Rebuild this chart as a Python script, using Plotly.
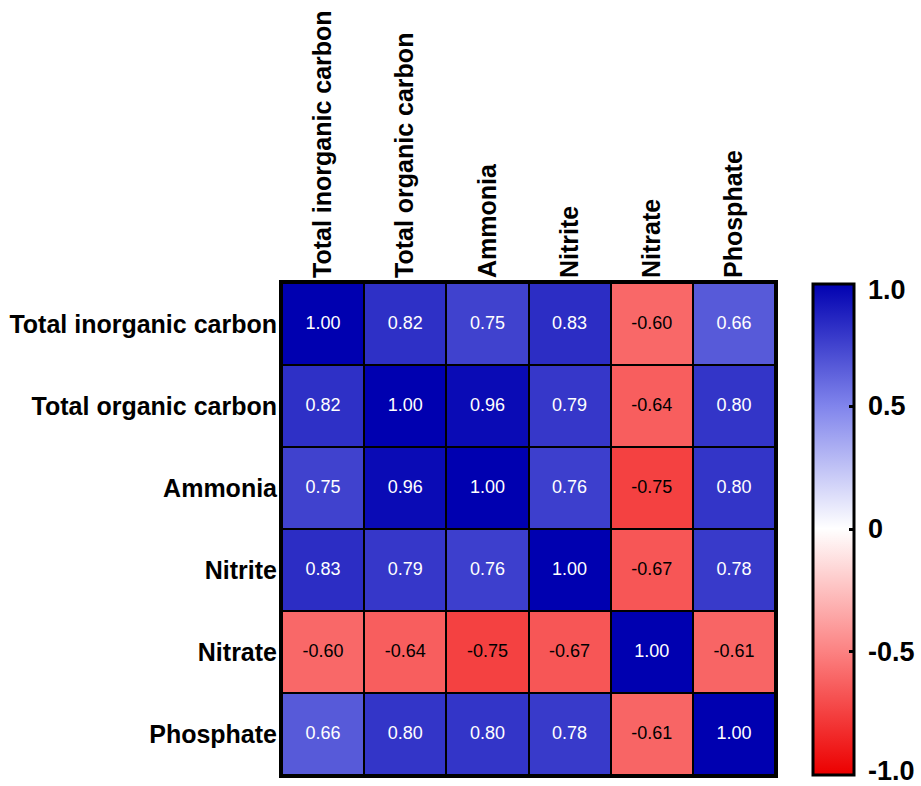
import plotly.graph_objects as go

# Correlation matrix of water-quality parameters
variables = ["Total inorganic carbon", "Total organic carbon", "Ammonia",
             "Nitrite", "Nitrate", "Phosphate"]

r_tic = [1.00, 0.82, 0.75, 0.83, -0.60, 0.66]
r_toc = [0.82, 1.00, 0.96, 0.79, -0.64, 0.80]
r_ammonia = [0.75, 0.96, 1.00, 0.76, -0.75, 0.80]
r_nitrite = [0.83, 0.79, 0.76, 1.00, -0.67, 0.78]
r_nitrate = [-0.60, -0.64, -0.75, -0.67, 1.00, -0.61]
r_phosphate = [0.66, 0.80, 0.80, 0.78, -0.61, 1.00]

matrix = [r_tic, r_toc, r_ammonia, r_nitrite, r_nitrate, r_phosphate]

cbar_ticks = [-1.0, -0.5, 0.0, 0.5, 1.0]
cbar_labels = ["-1.0", "-0.5", "0", "0.5", "1.0"]

FONT = "Liberation Sans, Arial, sans-serif"

colorscale = [
    [0.00, "rgb(236,0,0)"],
    [0.25, "rgb(252,130,130)"],
    [0.50, "rgb(255,255,255)"],
    [0.75, "rgb(128,132,236)"],
    [1.00, "rgb(0,0,176)"],
]

W, H = 921, 786
ML, MR, MT, MB = 282, 146, 283, 11
plot_w = W - ML - MR
plot_h = H - MT - MB

cb_left_px = 813
cb_thick = 41
cb_len_px = 491
cb_x = (cb_left_px - ML) / plot_w


def cbar_y(v):
    """Paper y coordinate of value v along the colour bar."""
    return 0.5 + v * (cb_len_px / 2) / plot_h


fig = go.Figure()

fig.add_trace(go.Heatmap(
    z=matrix, x=variables, y=variables,
    zmin=-1, zmax=1, colorscale=colorscale,
    xgap=2, ygap=2,
    hoverinfo="skip",
    colorbar=dict(
        x=cb_x, xanchor="left", xpad=0,
        y=0.5, yanchor="middle", ypad=0,
        len=cb_len_px, lenmode="pixels",
        thickness=cb_thick,
        outlinewidth=3, outlinecolor="black",
        tickvals=cbar_ticks[1:-1],
        ticks="inside", ticklen=6, tickwidth=3, tickcolor="black",
        showticklabels=False,
    ),
))

# Cell value labels: white on blue cells, black on red cells
tx, ty, tt, tc = [], [], [], []
for i, row in enumerate(matrix):
    for j, v in enumerate(row):
        tx.append(variables[j])
        ty.append(variables[i])
        tt.append(f"{v:.2f}")
        tc.append("white" if v > 0 else "black")

fig.add_trace(go.Scatter(
    x=tx, y=ty, text=tt, mode="text",
    textfont=dict(family=FONT, size=18, color=tc),
    hoverinfo="skip", showlegend=False,
))

# Tick marks on the left edge of the colour bar
shapes = []
tick_px = 6
for v in cbar_ticks[1:-1]:
    yp = cbar_y(v)
    x0 = cb_x + 1.5 / plot_w
    shapes.append(dict(
        type="line", xref="paper", yref="paper",
        x0=x0, x1=x0 + tick_px / plot_w, y0=yp, y1=yp,
        line=dict(color="black", width=3),
    ))

# Colour-bar labels
annotations = []
label_x = cb_x + (cb_thick + 3 + 9) / plot_w
for v, lab in zip(cbar_ticks, cbar_labels):
    yp = cbar_y(v)
    if v == 1.0:
        yp -= 6 / plot_h
    elif v == -1.0:
        yp += 4 / plot_h
    annotations.append(dict(
        x=label_x, y=yp, xref="paper", yref="paper",
        text=lab, showarrow=False, xanchor="left", yanchor="middle",
        font=dict(family=FONT, size=27, color="black", weight="bold"),
    ))

fig.update_layout(
    width=W, height=H,
    margin=dict(l=ML, r=MR, t=MT, b=MB, autoexpand=False),
    paper_bgcolor="white",
    plot_bgcolor="black",
    shapes=shapes,
    annotations=annotations,
    showlegend=False,
    font=dict(family=FONT, color="black"),
)

fig.update_xaxes(
    side="top", tickangle=-90, ticks="", showgrid=False, zeroline=False,
    showline=True, mirror=True, linewidth=3, linecolor="black",
    tickfont=dict(family=FONT, size=25, color="black", weight="bold"),
    ticklabelstandoff=-3, automargin=False,
)
fig.update_yaxes(
    autorange="reversed", ticks="", showgrid=False, zeroline=False,
    showline=True, mirror=True, linewidth=3, linecolor="black",
    tickfont=dict(family=FONT, size=25, color="black", weight="bold"),
    ticklabelstandoff=-3, automargin=False,
)

fig.write_html("out.html")
